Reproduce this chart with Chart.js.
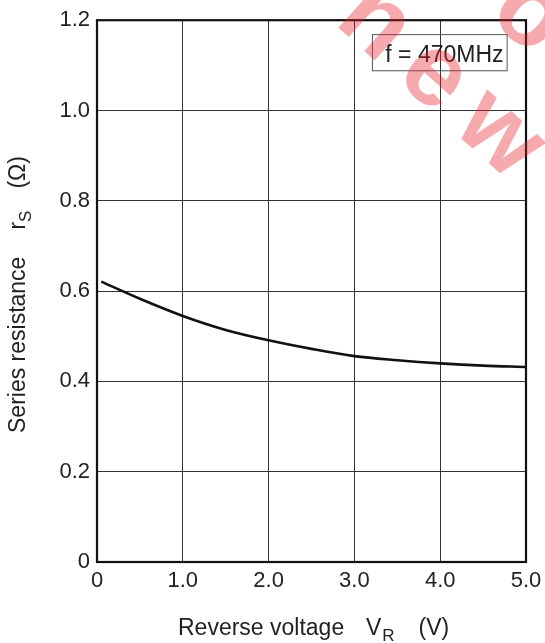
<!DOCTYPE html>
<html>
<head>
<meta charset="utf-8">
<script src="https://cdn.jsdelivr.net/npm/chart.js@4.4.1/dist/chart.umd.min.js"></script>
<style>
  html, body { margin: 0; padding: 0; background: #fff; }
  #chart { display: block; }
</style>
</head>
<body>
<canvas id="chart" width="545" height="643"></canvas>
<script>
// reverse voltage (V) vs series resistance (ohm)
const voltage = [0.05, 0.5, 1.0, 1.5, 2.0, 2.5, 3.0, 3.5, 4.0, 4.5, 5.0];
const resistance = [0.621, 0.583, 0.545, 0.514, 0.491, 0.472, 0.456, 0.447, 0.440, 0.435, 0.432];

const xTickLabels = ["0", "1.0", "2.0", "3.0", "4.0", "5.0"];
const yTickLabels = ["0", "0.2", "0.4", "0.6", "0.8", "1.0", "1.2"];

const noteText = "f = 470MHz";
const FONT = "'Liberation Sans', Arial, Helvetica, sans-serif";

// draws the frame, the note box, axis titles with subscripts and the watermark
const extras = {
  id: "extras",
  afterDatasetsDraw(chart) {
    const ctx = chart.ctx;
    const a = chart.chartArea;
    const xs = chart.scales.x, ys = chart.scales.y;
    ctx.save();

    // frame
    ctx.strokeStyle = "#111";
    ctx.lineWidth = 2.2;
    ctx.strokeRect(a.left, a.top, a.right - a.left, a.bottom - a.top);

    // note box
    const bx1 = xs.getPixelForValue(3.21), bx2 = xs.getPixelForValue(4.78);
    const by1 = ys.getPixelForValue(1.168), by2 = ys.getPixelForValue(1.088);
    ctx.lineWidth = 1;
    ctx.strokeStyle = "#555";
    ctx.strokeRect(bx1, by1, bx2 - bx1, by2 - by1);
    ctx.fillStyle = "#222";
    ctx.font = "23px " + FONT;
    ctx.textBaseline = "alphabetic";
    ctx.textAlign = "left";
    ctx.fillText(noteText, xs.getPixelForValue(3.36), ys.getPixelForValue(1.108));

    // x title
    let x = 178, y = 635;
    ctx.font = "23px " + FONT;
    ctx.fillText("Reverse voltage", x, y);
    x = 366;
    ctx.fillText("V", x, y);
    x += ctx.measureText("V").width + 1;
    ctx.font = "17px " + FONT;
    ctx.fillText("R", x, y + 6);
    x += ctx.measureText("R").width + 24;
    ctx.font = "23px " + FONT;
    ctx.fillText("(V)", x, y);

    // y title (rotated)
    ctx.save();
    ctx.translate(25, 433);
    ctx.rotate(-Math.PI / 2);
    let t = 0;
    ctx.fillText("Series resistance", t, 0);
    t += ctx.measureText("Series resistance").width + 27;
    ctx.fillText("r", t, 0);
    t += ctx.measureText("r").width;
    ctx.font = "17px " + FONT;
    ctx.fillText("S", t, 6);
    t += ctx.measureText("S").width + 22;
    ctx.font = "23px " + FONT;
    ctx.fillText("(\u03A9)", t, 0);
    ctx.restore();

    ctx.restore();
  },
  afterDraw(chart) {
    const ctx = chart.ctx;
    ctx.save();
    ctx.globalAlpha = 0.38;
    ctx.fillStyle = "#e8202a";
    ctx.font = "bold 102px " + FONT;
    ctx.letterSpacing = "20px";
    ctx.translate(333, 23);
    ctx.rotate(42 * Math.PI / 180);
    ctx.textBaseline = "alphabetic";
    ctx.fillText("new design", 0, 0);
    ctx.fillText("for", 56, -108);
    ctx.restore();
  }
};

new Chart(document.getElementById("chart"), {
  type: "line",
  data: {
    datasets: [{
      data: voltage.map((v, i) => ({ x: v, y: resistance[i] })),
      borderColor: "#111",
      borderWidth: 2.6,
      pointRadius: 0,
      fill: false,
      cubicInterpolationMode: "monotone"
    }]
  },
  options: {
    responsive: false,
    animation: false,
    devicePixelRatio: 1,
    layout: { padding: { top: 20, right: 19, left: 0, bottom: 0 } },
    plugins: { legend: { display: false }, tooltip: { enabled: false } },
    scales: {
      x: {
        type: "linear",
        min: 0,
        max: 5,
        ticks: {
          stepSize: 1,
          color: "#222",
          font: { family: FONT, size: 22 },
          padding: 6,
          maxRotation: 0,
          autoSkip: false,
          callback: (v, i) => xTickLabels[i]
        },
        grid: { color: "#333", lineWidth: 1, drawTicks: false },
        border: { display: false },
        afterFit: s => { s.height = 81; s.paddingRight = 0; s.paddingLeft = 0; }
      },
      y: {
        min: 0,
        max: 1.2,
        ticks: {
          stepSize: 0.2,
          color: "#222",
          font: { family: FONT, size: 22 },
          padding: 7,
          autoSkip: false,
          callback: (v, i) => yTickLabels[i]
        },
        grid: { color: "#333", lineWidth: 1, drawTicks: false },
        border: { display: false },
        afterFit: s => { s.width = 97; }
      }
    }
  },
  plugins: [extras]
});
</script>
</body>
</html>
